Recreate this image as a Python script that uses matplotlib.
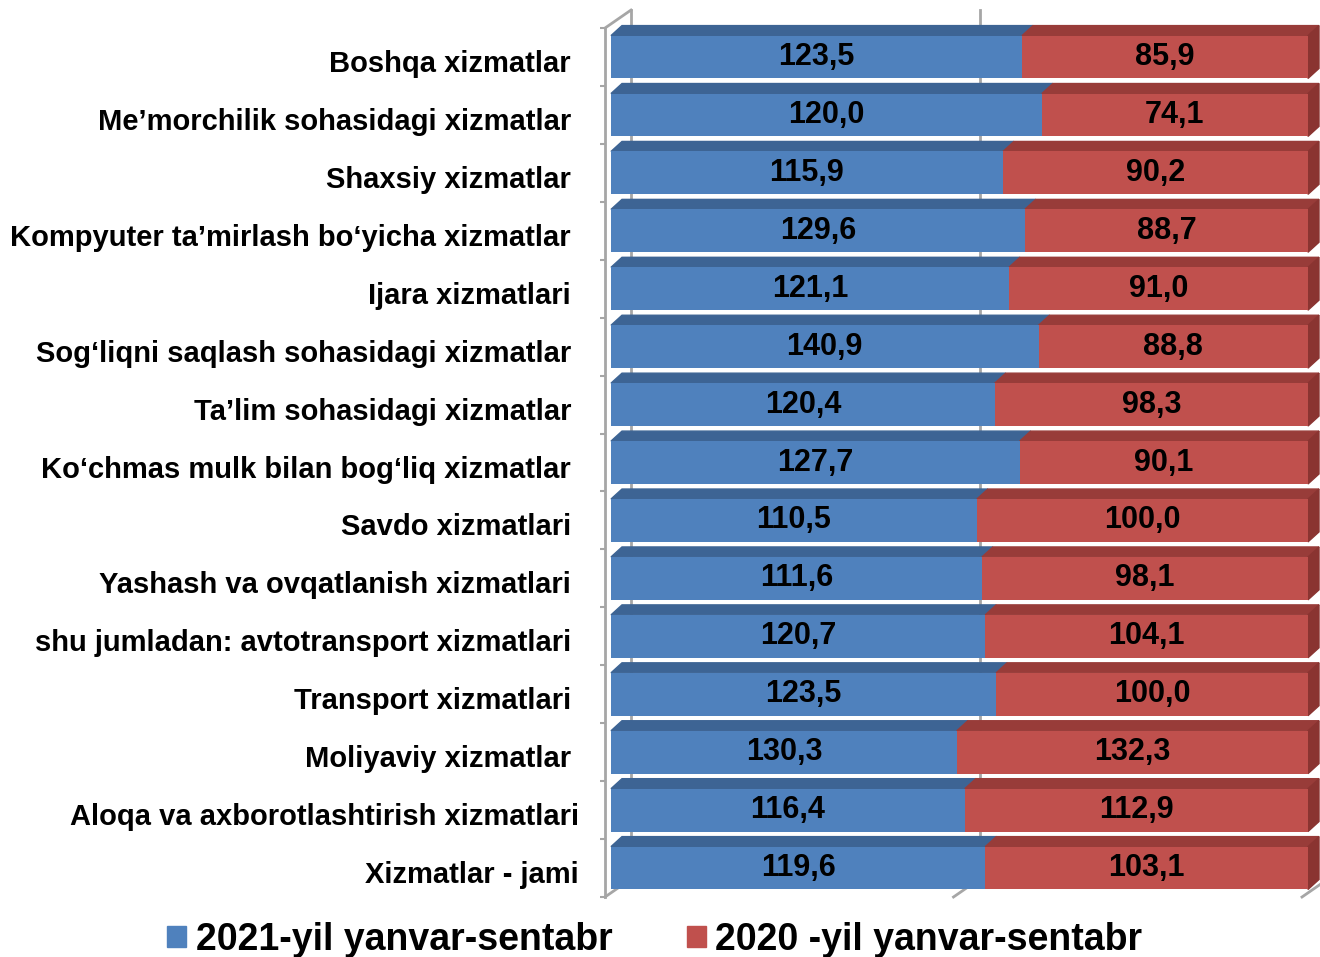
import matplotlib.pyplot as plt
from matplotlib.patches import Polygon, Patch
import numpy as np

categories = [
    'Boshqa xizmatlar',
    'Me\u2019morchilik sohasidagi xizmatlar',
    'Shaxsiy xizmatlar',
    'Kompyuter ta\u2019mirlash bo\u2018yicha xizmatlar',
    'Ijara xizmatlari',
    'Sog\u2018liqni saqlash sohasidagi xizmatlar',
    'Ta\u2019lim sohasidagi xizmatlar',
    'Ko\u2018chmas mulk bilan bog\u2018liq xizmatlar',
    'Savdo xizmatlari',
    'Yashash va ovqatlanish xizmatlari',
    'shu jumladan: avtotransport xizmatlari',
    'Transport xizmatlari',
    'Moliyaviy xizmatlar',
    'Aloqa va axborotlashtirish xizmatlari',
    'Xizmatlar - jami',
]
v2021 = [123.5, 120.0, 115.9, 129.6, 121.1, 140.9, 120.4, 127.7,
         110.5, 111.6, 120.7, 123.5, 130.3, 116.4, 119.6]
v2020 = [85.9, 74.1, 90.2, 88.7, 91.0, 88.8, 98.3, 90.1,
         100.0, 98.1, 104.1, 100.0, 132.3, 112.9, 103.1]
series_names = ['2021-yil yanvar-sentabr', '2020 -yil yanvar-sentabr']

blue, red = '#4F81BD', '#C0504D'
blue_top, red_top = '#3D6494', '#983C39'
red_side = '#8A3431'
grid_c = '#A6A6A6'

plt.rcParams['font.family'] = ['Liberation Sans', 'DejaVu Sans']
plt.rcParams['font.weight'] = 'bold'

fig = plt.figure(figsize=(13.2, 9.57), dpi=100)
ax = fig.add_axes([600 / 1320, 1 - 905 / 957, 720 / 1320, 900 / 957])
px = 1 / 697      # one pixel in x units
py = 1 / 57.93    # one pixel in row units
ax.set_xlim(-11 * px, 1 + 12 * px)
ax.set_ylim(14.638, -0.898)
ax.axis('off')

a = np.array(v2021)
b = np.array(v2020)
fa = a / (a + b)
fb = b / (a + b)
y = np.arange(len(categories))
h = 0.74
dx, dy = 11 * px, 10 * py
wx, wy = 26 * px, 18 * py
x0 = -6 * px

# walls / gridlines
top, bot = -0.5, len(categories) - 0.5
ax.plot([x0, x0], [top, bot], color=grid_c, lw=2, zorder=1)
ax.plot([x0, x0 + wx], [top, top - wy], color=grid_c, lw=2, zorder=1)
for g in [0, 0.5, 1]:
    ax.plot([g + x0 + wx] * 2, [top - wy, bot - wy], color=grid_c, lw=2, zorder=0)
    ax.plot([g + x0, g + x0 + wx], [bot, bot - wy], color=grid_c, lw=2, zorder=0)
for yy in np.arange(top, bot + 0.01, 1.0):
    ax.plot([x0 - 9 * px, x0], [yy, yy], color=grid_c, lw=1.5, zorder=1)

bars1 = ax.barh(y, fa, height=h, color=blue, zorder=3)
bars2 = ax.barh(y, fb, left=fa, height=h, color=red, zorder=3)

for bars, tc in [(bars1, blue_top), (bars2, red_top)]:
    for p in bars:
        xl, yt = p.get_x(), p.get_y()
        xr = xl + p.get_width()
        ax.add_patch(Polygon([(xl, yt), (xr, yt), (xr + dx, yt - dy), (xl + dx, yt - dy)],
                             closed=True, color=tc, zorder=2))
for p in bars2:
    xr = p.get_x() + p.get_width()
    yt, yb = p.get_y(), p.get_y() + p.get_height()
    ax.add_patch(Polygon([(xr, yt), (xr + dx, yt - dy), (xr + dx, yb - dy), (xr, yb)],
                         closed=True, color=red_side, zorder=2))

for i in range(len(categories)):
    ax.text(fa[i] / 2, y[i], f'{v2021[i]:.1f}'.replace('.', ','), ha='center', va='center',
            fontsize=22, fontweight='bold', zorder=5)
    ax.text(fa[i] + fb[i] / 2, y[i], f'{v2020[i]:.1f}'.replace('.', ','), ha='center', va='center',
            fontsize=22, fontweight='bold', zorder=5)
    off = -32 if i >= 13 else -40
    ax.text(off * px, y[i] + 7 * py, categories[i], ha='right', va='center',
            fontsize=21, fontweight='bold', clip_on=False)

handles = [Patch(color=blue), Patch(color=red)]
fig.legend(handles, series_names, loc='center', bbox_to_anchor=(655 / 1320, 1 - 940 / 957),
           ncol=2, frameon=False, fontsize=27, handlelength=0.5, handleheight=0.5,
           handletextpad=0.25, columnspacing=2.0, borderaxespad=0, borderpad=0)

fig.savefig('out.png', dpi=100)
